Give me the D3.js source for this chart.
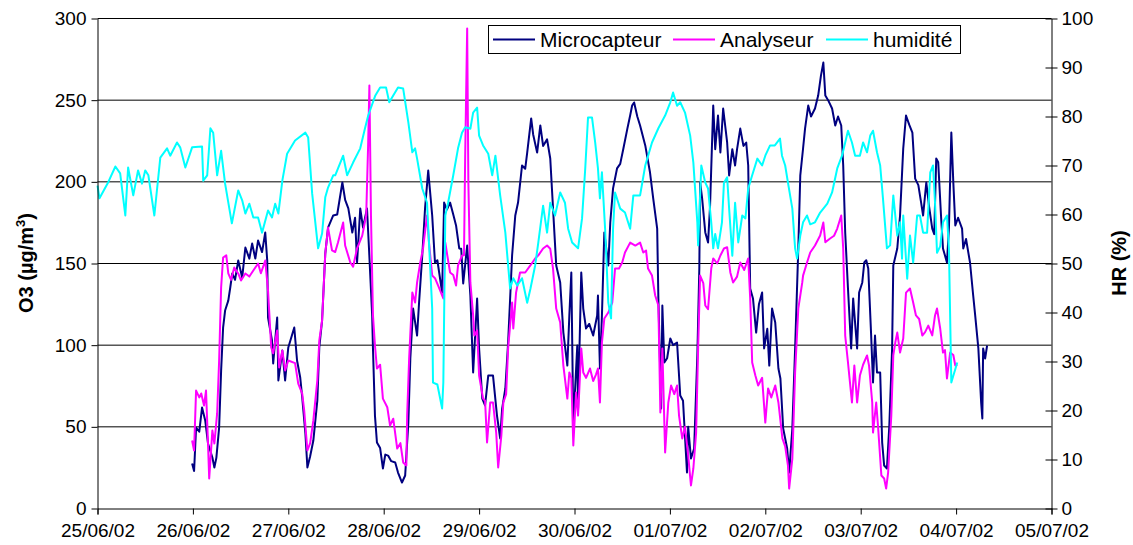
<!DOCTYPE html>
<html>
<head>
<meta charset="utf-8">
<script src="https://cdn.jsdelivr.net/npm/d3@7/dist/d3.min.js"></script>
<style>
  body { margin: 0; background: #fff; }
  svg { display: block; }
  text { font-family: "Liberation Sans", Arial, sans-serif; fill: #000; }
</style>
</head>
<body>
<svg id="chart" width="1133" height="545"></svg>
<script>
"use strict";

// time axis: hours counted from 25/06/02 00:00
const START = new Date(2002, 5, 25);
const dayLabels = ["25/06/02", "26/06/02", "27/06/02", "28/06/02", "29/06/02", "30/06/02",
                   "01/07/02", "02/07/02", "03/07/02", "04/07/02", "05/07/02"];
const o3Ticks = [0, 50, 100, 150, 200, 250, 300];
const hrTicks = [0, 10, 20, 30, 40, 50, 60, 70, 80, 90, 100];
const seriesNames = ["Microcapteur", "Analyseur", "humidité"];

// [hour, O3 µg/m3]
const microcapteur = [
  [23.8,27.5],[24.3,23],[24.8,49.6],[25.6,47],[26.3,61.8],[27.1,53.9],[27.8,39.8],[28.9,31.2],[29.4,25.1],[29.9,31],
  [30.6,49.6],[31.1,84.5],[31.6,110.8],[32.1,121.2],[32.9,127.3],[33.4,135.3],[33.9,143.9],[34.6,140],[35.4,151.8],[36.4,141.4],
  [37.2,159.8],[38.2,153],[38.9,162.2],[39.7,153],[40.4,164.1],[41.4,157],[42.2,169],[42.7,151.8],[42.9,116.9],[43.9,102.9],
  [44.2,88.8],[45.2,116.9],[45.5,78.4],[46.5,96.7],[47.2,78.4],[48.0,98.6],[49.5,110.8],[50.2,90.6],[51.0,80.2],[51.5,68],
  [52.3,45.9],[52.8,25.1],[53.5,32],[54.3,41.6],[55.3,66.1],[55.8,98.6],[56.5,115.1],[57.3,156.1],[58.0,172],[59.3,179.4],
  [60.3,180],[61.6,199.6],[62.3,189],[63.1,183.7],[64.1,169],[64.8,178],[65.3,150.6],[66.1,183.7],[66.8,172],[67.8,183.7],
  [68.3,159.2],[69.1,118.2],[69.3,98],[69.8,56.9],[70.3,40.4],[71.1,37],[71.8,24.5],[72.4,33],[73.1,32.4],[73.9,29],
  [74.9,28.2],[75.6,22],[76.6,15.9],[77.4,20.2],[78.2,52.6],[78.7,91.8],[79.4,122.4],[80.4,105.9],[80.9,126.1],[81.7,154.9],
  [82.4,183.7],[83.2,206.9],[84.2,179.4],[84.9,150.6],[85.5,152],[86.7,132.2],[87.2,187.3],[87.9,183],[88.7,187.3],[89.5,180],
  [90.2,173.3],[91.0,159.2],[91.5,159],[92.0,137.8],[93.0,161],[93.8,130.4],[94.5,83.3],[95.5,128.6],[96.0,98],[96.8,67.3],
  [97.5,63.1],[98.3,81.4],[99.5,81.4],[100.5,56.9],[101.3,42.9],[101.8,61.2],[102.6,73.5],[103.3,101.6],[104.3,154.9],[105.1,179.4],
  [105.8,187.3],[106.8,210],[107.6,208],[108.1,217.9],[109.1,238.8],[109.6,229],[110.6,217.9],[111.4,234.5],[112.1,222],[113.1,226],
  [113.9,214.3],[114.6,183.7],[115.4,148.8],[116.4,138.4],[117.2,107.7],[118.2,87.5],[118.7,118.2],[119.2,144.5],[119.7,50.8],[120.7,99.8],
  [120.9,61.2],[121.7,144.5],[122.2,122.4],[122.9,110.2],[123.7,113],[124.7,105.9],[125.7,118.2],[125.9,130.4],[126.4,85.7],[126.9,118.2],
  [127.5,169],[128.5,148.8],[129.0,175.1],[129.7,196],[130.7,208.2],[131.5,211],[132.3,220.4],[133.3,232.6],[134.0,240.6],[134.5,246.7],
  [135.0,248.6],[135.8,240],[136.5,234.5],[137.8,222.3],[139.0,205.7],[139.8,189.8],[140.8,171.4],[141.1,128.6],[141.8,61.2],[142.1,124.3],
  [142.6,89.4],[143.3,92],[144.1,104.1],[144.8,100],[145.8,101.6],[146.6,69.2],[147.3,66],[148.3,22],[148.6,50],[149.3,30.6],
  [150.1,36.7],[150.9,93.7],[151.4,146.9],[151.6,199.6],[152.1,190],[152.9,169],[153.6,162.8],[154.1,185],[154.9,246.7],[155.4,220],
  [156.1,240.6],[156.7,218],[157.4,244.9],[158.4,224.1],[158.9,203.9],[159.7,220],[160.4,210],[160.9,220],[161.7,232.6],[162.5,222],
  [163.2,224],[163.7,210],[164.2,134.7],[164.9,128.6],[165.7,107.7],[166.4,125],[167.2,132.2],[167.7,98],[168.5,110],[169.0,87.5],
  [169.7,122.4],[170.5,113.9],[171.3,85.7],[171.8,79.6],[172.5,49],[173.5,36.7],[174.0,22],[174.8,49],[175.5,98],[176.3,159.2],
  [176.8,203.9],[177.5,220.4],[178.0,232.6],[178.8,246.7],[179.5,240],[180.5,244.9],[181.3,252.8],[182.0,265],[182.6,273],[183.1,252.8],
  [183.8,250],[184.8,244.9],[185.6,234.5],[186.3,240],[187.1,234.5],[187.6,210],[188.1,169],[188.8,134.7],[189.6,98],[190.1,128.6],
  [191.1,98],[191.6,132.2],[192.4,138.4],[192.9,150.6],[193.4,152],[193.9,146.9],[194.6,107.7],[195.1,77.1],[195.6,105.9],[196.1,83.3],
  [196.9,83.3],[197.4,40.4],[197.9,26.3],[198.6,24.5],[199.2,50.8],[199.9,98],[200.2,148.8],[201.2,159.2],[201.9,179.4],[202.7,220.4],
  [203.4,240.6],[204.2,235],[205.0,230.2],[205.7,202],[206.5,198],[207.2,187.3],[207.7,179.4],[208.5,199.6],[209.2,185],[210.0,171.4],
  [210.5,168],[211.0,214.3],[211.5,212],[212.2,179.4],[212.7,159.2],[213.7,150.6],[214.2,172],[214.8,230.2],[215.3,199.6],[215.8,173.3],
  [216.5,178],[217.5,171.4],[217.8,159.2],[218.5,165],[219.5,150.6],[220.3,130.4],[220.8,118.2],[221.6,98],[222.3,64.9],[222.6,55.1],
  [222.8,98],[223.3,91.8],[223.8,99.8]
];

// [hour, O3 µg/m3]
const analyseur = [
  [23.8,41.6],[24.3,35.5],[24.8,72.2],[25.6,68],[26.1,70.4],[26.8,63],[27.3,72.2],[27.8,39.8],[28.1,18.4],[28.9,47.8],
  [29.4,39.8],[30.1,58.2],[30.6,90.6],[31.1,135.3],[31.6,153.7],[32.4,155],[32.9,143.9],[33.6,140],[34.4,147.5],[35.4,143.9],
  [36.1,139.6],[37.2,143.9],[38.2,142],[39.2,145.7],[40.4,150],[41.1,144],[42.2,151.8],[42.9,133.5],[43.7,98.6],[44.2,95],
  [45.2,109],[45.7,86.3],[46.5,96.7],[47.2,84.5],[48.0,90.6],[49.7,89],[50.5,76.5],[51.5,70.4],[52.0,60],[52.8,35.5],
  [53.5,40],[54.3,53.9],[55.3,78.4],[55.8,102.9],[56.5,115.1],[57.3,156.1],[58.0,172],[59.0,158],[59.8,157],[60.5,162.8],
  [61.8,175.1],[62.3,161],[63.6,150.6],[64.3,148],[65.3,159.2],[66.6,167.1],[67.6,179.4],[68.1,224.1],[68.4,259],[68.8,179.4],
  [69.3,118.2],[69.8,99.8],[70.3,85.7],[71.1,88],[71.8,67.3],[72.9,62],[73.6,50.8],[74.4,55],[75.4,36.7],[76.2,40],
  [76.9,28.2],[77.7,26.3],[77.9,56.9],[78.4,91.8],[79.2,132.2],[79.9,126.1],[80.4,138.4],[81.2,150.6],[81.9,159.2],[82.9,179.4],
  [83.4,162.8],[84.2,142.6],[84.9,141],[85.7,136.5],[87.0,128.6],[87.5,162.8],[88.0,154.9],[88.7,144.5],[89.5,143],[90.2,136.5],
  [90.7,148.8],[91.7,154.9],[92.2,155],[92.5,216.1],[93.0,293.9],[93.3,199.6],[93.8,138.4],[94.5,118.2],[94.8,105.9],[95.5,109],
  [96.0,81.4],[97.0,67.3],[97.5,66],[98.0,40.4],[98.8,64.9],[99.5,64.9],[100.3,46.5],[100.8,25.1],[101.6,44.7],[102.1,64.9],
  [102.8,70],[103.3,98],[104.3,126.1],[104.6,110.2],[105.3,132.2],[106.3,144.5],[107.6,144.5],[108.9,148.8],[110.1,153.1],[110.9,155],
  [112.1,159.2],[113.1,161],[113.9,159],[114.6,146.9],[115.4,122.4],[116.4,113.9],[117.2,87.5],[118.2,67.3],[118.7,83.3],[119.2,80],
  [119.7,38.6],[120.4,71],[120.9,56.9],[121.7,98],[122.2,83.3],[122.9,80],[123.9,85.7],[124.7,78],[125.4,82],[125.9,85.7],
  [126.4,64.9],[126.9,101.6],[127.5,116.3],[128.5,120],[129.5,126.1],[130.2,146.9],[131.2,147],[132.0,150.6],[132.7,156.7],[134.0,162.8],
  [135.3,161],[136.5,162.8],[137.3,156.7],[138.0,158],[138.5,146.9],[139.5,142.6],[140.3,130.4],[141.1,124.3],[141.6,58.8],[142.1,98],
  [142.8,34.3],[143.6,64.9],[144.3,75.3],[145.1,70],[145.8,75.3],[146.3,56.9],[147.1,42.9],[147.8,50],[148.6,32.4],[149.3,14.1],
  [149.9,24.5],[150.6,46.5],[151.1,98],[151.6,142.6],[152.4,138],[152.9,124.3],[153.6,122],[154.4,146.9],[154.9,153.1],[155.9,150],
  [156.7,154.9],[157.6,159.2],[158.4,160],[159.2,144.5],[159.9,138.4],[160.9,142],[161.7,150.6],[162.7,146],[163.7,153.1],[164.2,128.6],
  [164.7,89.4],[165.5,81.4],[166.2,75.3],[167.2,80],[168.0,52.6],[168.7,73.5],[169.5,68],[170.5,75.3],[171.3,64.9],[172.3,42.9],
  [173.0,38],[173.7,26.3],[174.0,12.2],[174.8,30.6],[175.5,83.3],[176.3,122.4],[177.3,138.4],[177.5,142.6],[178.5,150.6],[179.3,156.7],
  [180.5,161],[181.8,167.1],[182.6,175.1],[183.1,163],[184.3,165.3],[185.3,167],[186.1,171.4],[187.1,179.4],[187.6,159.2],[188.1,105.9],
  [188.8,89.4],[189.8,64.9],[190.4,87.5],[191.1,64.9],[191.8,81.4],[192.6,88],[193.6,93.7],[194.1,87.5],[194.9,64.9],[195.1,46.5],
  [195.9,64.9],[196.4,49],[197.2,20.2],[197.9,18.4],[198.4,12.2],[198.9,22],[199.7,56.9],[200.2,93.7],[200.7,101.6],[201.2,107.7],
  [201.9,95.5],[202.7,104.1],[203.4,132.2],[204.4,134.7],[205.2,126.1],[205.9,118.2],[206.7,116],[207.5,105.9],[208.2,108],[209.0,112],
  [210.0,106],[210.7,118.2],[211.2,122.4],[212.0,110.2],[212.7,95.5],[213.2,97],[213.7,79.6],[214.5,95.5],[215.3,94],[215.8,87.5],
  [216.3,88]
];

// [hour, HR %]
const humidite = [
  [0,65.9],[0.5,63.3],[2.7,66.6],[4.5,69.8],[5.7,68.4],[7.0,59.8],[7.7,69.6],[9.0,63.9],[10.2,69],[11.2,66.3],
  [12.0,69],[12.8,68],[14.3,59.8],[15.8,71.6],[17.5,73.5],[18.3,72],[20.0,74.7],[20.8,73.7],[22.1,69.6],[23.8,73.7],
  [26.3,73.9],[26.6,66.9],[27.6,68],[28.4,77.6],[29.1,76.7],[30.1,68],[31.1,73],[32.1,66.3],[33.8,58.2],[35.4,64.9],
  [36.4,62.9],[37.2,60.2],[38.2,62.2],[39.2,59.4],[40.4,59.4],[41.4,56.3],[42.9,60.8],[43.9,59.4],[44.7,62.2],[45.5,60.2],
  [46.5,66.9],[47.7,72.4],[49.7,75.1],[52.3,76.7],[53.0,75.7],[54.0,64.3],[55.5,53.1],[56.5,56.1],[57.3,63.5],[58.0,65.5],
  [59.3,68],[59.8,68],[61.8,72],[62.8,68],[64.3,70.6],[66.1,73.5],[67.3,77.6],[68.1,80.2],[69.9,84.3],[71.1,85.9],
  [72.6,85.9],[73.4,82.9],[74.4,84.3],[75.6,85.9],[76.9,85.7],[78.2,78.8],[79.2,72.7],[79.9,73.5],[80.4,71.4],[81.7,65.3],
  [82.9,62.4],[84.2,40.8],[84.4,25.7],[85.5,25.3],[86.7,20.4],[87.0,25.7],[87.5,59.8],[88.2,62.4],[89.5,68],[90.7,73.5],
  [91.7,76.7],[92.5,77.8],[93.8,77.5],[94.5,80.8],[95.5,81.8],[96.0,76.1],[97.0,74.1],[98.3,72.4],[99.3,68],[100.1,72],
  [101.3,63.9],[102.6,56.3],[103.8,44.9],[104.6,47],[105.6,45.5],[106.8,47],[108.1,42],[108.9,44.8],[110.1,49.6],[110.9,54.3],
  [112.1,61.8],[113.1,56.3],[113.9,62.4],[115.1,59.8],[116.4,64.5],[117.6,62.4],[118.4,57.1],[119.4,54.3],[120.9,53.1],[121.9,59.2],
  [122.7,69.4],[123.4,79.8],[124.4,79.8],[125.2,74.7],[125.9,69.4],[126.4,63.3],[126.9,68.6],[127.7,57.1],[128.5,42],[129.2,38.8],
  [129.7,57.1],[130.2,64.5],[131.5,61.2],[132.7,60.4],[134.0,57.1],[134.8,63.9],[136.5,63.9],[137.8,70],[139.5,74.7],[141.1,77.6],
  [142.8,80.2],[144.1,82.9],[144.8,84.9],[145.8,82.2],[146.6,82.9],[147.8,80.8],[149.1,76.1],[149.9,70.6],[150.9,58.4],[151.1,53.7],
  [151.9,70],[152.9,66.5],[153.6,65.3],[154.4,58.4],[154.9,53.1],[155.4,56],[156.1,53.1],[157.1,58.4],[157.6,66.5],[158.4,67.6],
  [158.9,61.2],[159.7,51.6],[160.4,62.4],[161.2,54.3],[162.2,59.8],[163.0,59.2],[163.7,65.3],[164.7,68],[166.0,71.4],[167.2,70],
  [168.0,72],[169.2,74.1],[170.4,74.1],[171.7,75.5],[172.2,72],[173.0,70],[173.7,66.5],[174.8,61.2],[175.5,53.1],[176.0,51],
  [176.8,55.7],[177.5,58.4],[178.5,59.8],[179.3,58],[180.5,58.4],[181.8,60.4],[183.6,62.2],[184.8,64.5],[186.1,69.4],[187.3,72],
  [188.1,74.7],[188.8,77.1],[189.8,74.7],[190.6,72],[191.8,72],[192.6,74.7],[193.6,72.7],[194.4,76.1],[195.1,77.1],[196.1,72.7],
  [196.9,70],[197.6,63.3],[198.6,53.1],[199.4,53.7],[200.2,63.9],[201.2,55.7],[201.9,58.4],[202.4,51],[202.7,59.8],[203.7,46.9],
  [204.4,55.7],[205.2,50.2],[206.2,59.8],[206.9,59.8],[207.7,56.3],[208.7,56.3],[209.5,68.6],[210.2,70],[210.7,62.4],[211.2,52.2],
  [212.0,53.5],[212.7,58.4],[213.7,59.8],[214.2,53],[214.8,25.7],[215.3,27.1],[216.3,29.8]
];

const colors = { "Microcapteur": "#000080", "Analyseur": "#ff00ff", "humidité": "#00ffff" };

const svg = d3.select("#chart");
const plotLeft = 97.5, plotRight = 1051.5, plotTop = 18.5, plotBottom = 508.5;

const hourToDate = h => new Date(START.getTime() + h * 3600e3);
const x = d3.scaleTime()
  .domain([START, d3.timeDay.offset(START, dayLabels.length - 1)])
  .range([plotLeft, plotRight]);
const yO3 = d3.scaleLinear().domain([0, 300]).range([plotBottom, plotTop]);
const yHR = d3.scaleLinear().domain([0, 100]).range([plotBottom, plotTop]);

// horizontal grid lines
svg.append("g")
  .selectAll("line")
  .data(o3Ticks.filter(d => d > 0))
  .join("line")
  .attr("x1", plotLeft).attr("x2", plotRight)
  .attr("y1", d => yO3(d)).attr("y2", d => yO3(d))
  .attr("stroke", "#000").attr("stroke-width", 1);

// series
const series = [
  { name: "Microcapteur", data: microcapteur, y: yO3 },
  { name: "Analyseur", data: analyseur, y: yO3 },
  { name: "humidité", data: humidite, y: yHR }
];
series.forEach(s => {
  const line = d3.line()
    .x(d => x(hourToDate(d[0])))
    .y(d => s.y(d[1]));
  svg.append("path")
    .datum(s.data)
    .attr("d", line)
    .attr("fill", "none")
    .attr("stroke", colors[s.name])
    .attr("stroke-width", 2)
    .attr("stroke-linejoin", "round");
});

// axes
const fontSize = "19px";
const xAxis = svg.append("g")
  .attr("transform", `translate(0,${plotBottom})`)
  .call(d3.axisBottom(x)
    .ticks(d3.timeDay.every(1))
    .tickFormat((d, i) => dayLabels[i])
    .tickSizeOuter(0)
    .tickSize(6)
    .tickPadding(8));

const yLeft = svg.append("g")
  .attr("transform", `translate(${plotLeft},0)`)
  .call(d3.axisLeft(yO3).tickValues(o3Ticks).tickSize(6).tickSizeOuter(0).tickPadding(5));

const yRight = svg.append("g")
  .attr("transform", `translate(${plotRight},0)`)
  .call(d3.axisRight(yHR).tickValues(hrTicks).tickSize(6).tickSizeOuter(0).tickPadding(4));
// ticks cross the right axis
yRight.selectAll(".tick line").attr("x1", -6).attr("x2", 6);

[xAxis, yLeft, yRight].forEach(g => {
  g.selectAll("text").attr("font-size", fontSize).attr("font-family", "Liberation Sans, Arial, sans-serif").attr("fill", "#000");
  g.selectAll("line, path").attr("stroke", "#000");
});
xAxis.selectAll(".tick text").attr("dy", "0.75em");

// axis titles
const leftTitle = svg.append("text")
  .attr("transform", `translate(33,263) rotate(-90)`)
  .attr("text-anchor", "middle")
  .attr("font-size", "20px")
  .attr("font-weight", "bold");
leftTitle.append("tspan").text("O3 (µg/m");
leftTitle.append("tspan").attr("font-size", "13px").attr("dy", "-8").text("3");
leftTitle.append("tspan").attr("dy", "8").text(")");

svg.append("text")
  .attr("transform", `translate(1126,263) rotate(-90)`)
  .attr("text-anchor", "middle")
  .attr("font-size", "20px")
  .attr("font-weight", "bold")
  .text("HR (%)");

// legend
const legend = svg.append("g");
legend.append("rect")
  .attr("x", 488.5).attr("y", 25.5).attr("width", 472).attr("height", 28)
  .attr("fill", "#fff").attr("stroke", "#000").attr("stroke-width", 1);
const legendX = [493, 673, 826];
seriesNames.forEach((name, i) => {
  legend.append("line")
    .attr("x1", legendX[i]).attr("x2", legendX[i] + 42)
    .attr("y1", 39.5).attr("y2", 39.5)
    .attr("stroke", colors[name]).attr("stroke-width", 2);
  legend.append("text")
    .attr("x", legendX[i] + 47).attr("y", 47)
    .attr("font-size", "21px")
    .text(name);
});
</script>
</body>
</html>
